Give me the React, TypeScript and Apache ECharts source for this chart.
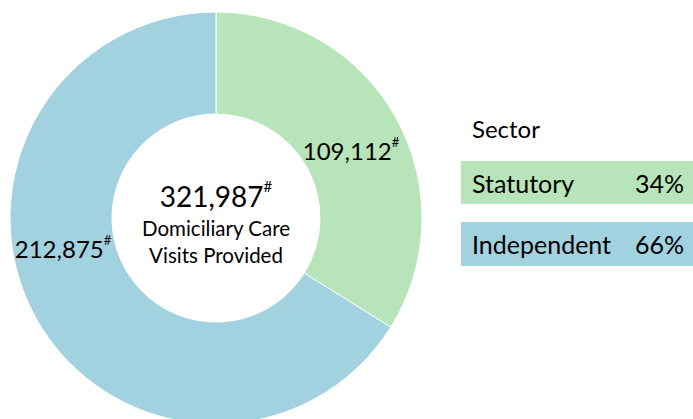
import React, { useEffect, useRef } from "react";
import * as echarts from "echarts";

const sectors = ["Statutory", "Independent"];
const visits = [109112, 212875];
const colors = ["#B7E4B9", "#A2D2E0"];
const centerCaption = ["Domiciliary Care", "Visits Provided"];
const legendTitle = "Sector";

const FONT = "Lato";
const fmt = (n: number) => n.toLocaleString("en-US");

export default function App() {
  const ref = useRef<HTMLDivElement>(null);
  useEffect(() => {
    document.body.style.margin = "0";
    const chart = echarts.init(ref.current!, null, { renderer: "svg" });
    const total = visits.reduce((a, b) => a + b, 0);
    const pct = visits.map((v) => Math.round((v / total) * 100) + "%");
    const labelPos = [
      { x: 351, y: 150 },
      { x: 63, y: 248 },
    ];
    const legendRows = [
      { y: 161, h: 43 },
      { y: 222, h: 44 },
    ];
    const graphics: any[] = [
      {
        type: "text",
        x: 216,
        y: 223,
        style: {
          text: `{n|${fmt(total)}}{s|#}\n{t|${centerCaption[0]}}\n{t|${centerCaption[1]}}`,
          align: "center",
          verticalAlign: "middle",
          fill: "#000",
          fontFamily: FONT,
          rich: {
            n: { fontSize: 28, lineHeight: 36, fontFamily: FONT, fill: "#000" },
            s: { fontSize: 15, lineHeight: 36, verticalAlign: "top", padding: [0, 0, 14, 0], fontFamily: FONT, fill: "#000" },
            t: { fontSize: 20.5, lineHeight: 27, fontFamily: FONT, fill: "#000" },
          },
        },
      },
      {
        type: "text",
        x: 472,
        y: 128,
        style: { text: legendTitle, fontSize: 24, fontFamily: FONT, fill: "#000", verticalAlign: "middle" },
      },
    ];
    sectors.forEach((name, i) => {
      const r = legendRows[i];
      graphics.push(
        { type: "rect", shape: { x: 461, y: r.y, width: 232, height: r.h }, style: { fill: colors[i] } },
        {
          type: "text",
          x: 472,
          y: r.y + r.h / 2,
          style: { text: name, fontSize: 25, fontFamily: FONT, fill: "#000", verticalAlign: "middle" },
        },
        {
          type: "text",
          x: 684,
          y: r.y + r.h / 2,
          style: { text: pct[i], fontSize: 25, fontFamily: FONT, fill: "#000", align: "right", verticalAlign: "middle" },
        }
      );
    });

    chart.setOption({
      animation: false,
      backgroundColor: "#fff",
      graphic: graphics,
      series: [
        {
          type: "pie",
          center: [216, 218],
          radius: [104, 206],
          startAngle: 90,
          clockwise: true,
          silent: true,
          data: sectors.map((name, i) => ({ name, value: visits[i], itemStyle: { color: colors[i] } })),
          itemStyle: { borderColor: "#fff", borderWidth: 1 },
          label: {
            show: true,
            position: "inside",
            formatter: (p: any) => `{v|${fmt(p.value)}}{s|#}`,
            rich: {
              v: { fontSize: 24, lineHeight: 30, fontFamily: FONT, color: "#000" },
              s: { fontSize: 13, lineHeight: 30, verticalAlign: "top", padding: [0, 0, 12, 0], fontFamily: FONT, color: "#000" },
            },
          },
          labelLine: { show: false },
          labelLayout: (p: any) => ({ x: labelPos[p.dataIndex].x, y: labelPos[p.dataIndex].y, align: "center", verticalAlign: "middle" }),
        },
      ],
    });
    return () => chart.dispose();
  }, []);
  return <div ref={ref} style={{ width: 693, height: 419 }} />;
}
